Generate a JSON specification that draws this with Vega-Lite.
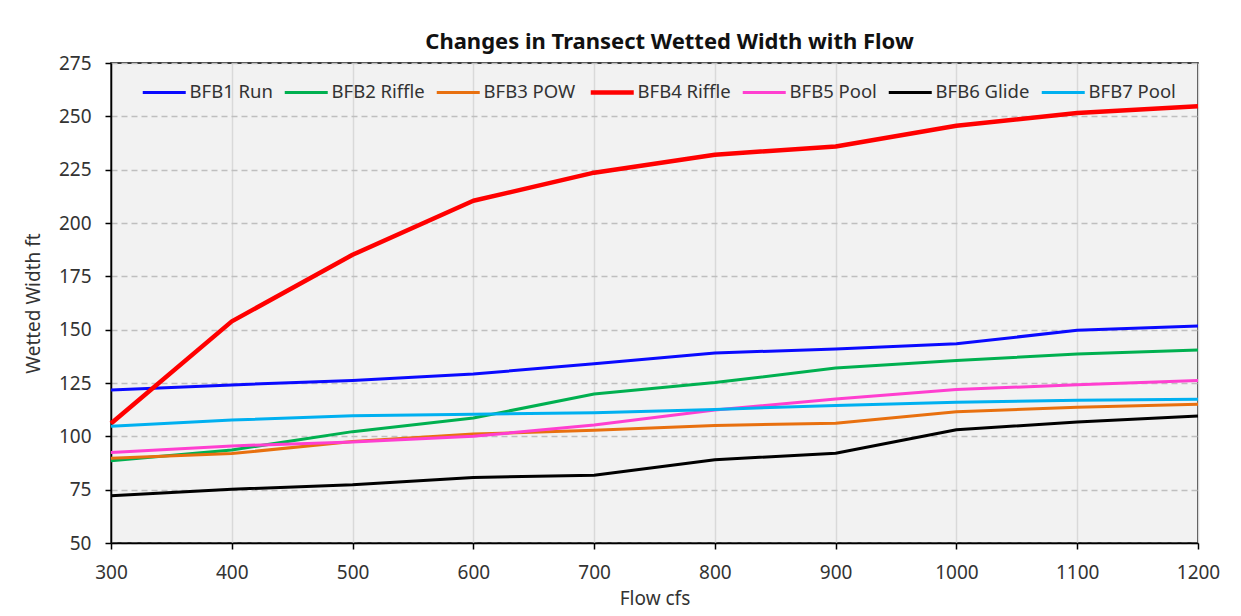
{
  "$schema": "https://vega.github.io/schema/vega-lite/v6.json",
  "width": 1087,
  "height": 480,
  "autosize": {"type": "none"},
  "padding": {"left": 111, "top": 63, "right": 43, "bottom": 73},
  "background": "white",
  "title": {
    "text": "Changes in Transect Wetted Width with Flow",
    "font": "Noto Sans",
    "fontSize": 22,
    "fontWeight": "bold",
    "color": "#111111",
    "anchor": "middle",
    "frame": "group",
    "dx": 15,
    "offset": 0
  },
  "data": {
    "values": [
      {"flow": 300, "series": "BFB1 Run", "width": 121.7},
      {"flow": 400, "series": "BFB1 Run", "width": 124.1},
      {"flow": 500, "series": "BFB1 Run", "width": 126.2},
      {"flow": 600, "series": "BFB1 Run", "width": 129.2},
      {"flow": 700, "series": "BFB1 Run", "width": 134.0},
      {"flow": 800, "series": "BFB1 Run", "width": 139.1},
      {"flow": 900, "series": "BFB1 Run", "width": 140.9},
      {"flow": 1000, "series": "BFB1 Run", "width": 143.4},
      {"flow": 1100, "series": "BFB1 Run", "width": 149.7},
      {"flow": 1200, "series": "BFB1 Run", "width": 151.7},
      {"flow": 300, "series": "BFB2 Riffle", "width": 88.6},
      {"flow": 400, "series": "BFB2 Riffle", "width": 93.6},
      {"flow": 500, "series": "BFB2 Riffle", "width": 102.2},
      {"flow": 600, "series": "BFB2 Riffle", "width": 108.6},
      {"flow": 700, "series": "BFB2 Riffle", "width": 119.8},
      {"flow": 800, "series": "BFB2 Riffle", "width": 125.2},
      {"flow": 900, "series": "BFB2 Riffle", "width": 132.0},
      {"flow": 1000, "series": "BFB2 Riffle", "width": 135.5},
      {"flow": 1100, "series": "BFB2 Riffle", "width": 138.6},
      {"flow": 1200, "series": "BFB2 Riffle", "width": 140.5},
      {"flow": 300, "series": "BFB3 POW", "width": 89.7},
      {"flow": 400, "series": "BFB3 POW", "width": 91.9},
      {"flow": 500, "series": "BFB3 POW", "width": 97.6},
      {"flow": 600, "series": "BFB3 POW", "width": 101.1},
      {"flow": 700, "series": "BFB3 POW", "width": 102.8},
      {"flow": 800, "series": "BFB3 POW", "width": 105.1},
      {"flow": 900, "series": "BFB3 POW", "width": 106.1},
      {"flow": 1000, "series": "BFB3 POW", "width": 111.5},
      {"flow": 1100, "series": "BFB3 POW", "width": 113.6},
      {"flow": 1200, "series": "BFB3 POW", "width": 115.0},
      {"flow": 300, "series": "BFB4 Riffle", "width": 106.0},
      {"flow": 400, "series": "BFB4 Riffle", "width": 153.9},
      {"flow": 500, "series": "BFB4 Riffle", "width": 185.1},
      {"flow": 600, "series": "BFB4 Riffle", "width": 210.4},
      {"flow": 700, "series": "BFB4 Riffle", "width": 223.6},
      {"flow": 800, "series": "BFB4 Riffle", "width": 232.0},
      {"flow": 900, "series": "BFB4 Riffle", "width": 235.9},
      {"flow": 1000, "series": "BFB4 Riffle", "width": 245.6},
      {"flow": 1100, "series": "BFB4 Riffle", "width": 251.6},
      {"flow": 1200, "series": "BFB4 Riffle", "width": 254.7},
      {"flow": 300, "series": "BFB5 Pool", "width": 92.4},
      {"flow": 400, "series": "BFB5 Pool", "width": 95.5},
      {"flow": 500, "series": "BFB5 Pool", "width": 97.4},
      {"flow": 600, "series": "BFB5 Pool", "width": 100.0},
      {"flow": 700, "series": "BFB5 Pool", "width": 105.3},
      {"flow": 800, "series": "BFB5 Pool", "width": 112.3},
      {"flow": 900, "series": "BFB5 Pool", "width": 117.5},
      {"flow": 1000, "series": "BFB5 Pool", "width": 121.9},
      {"flow": 1100, "series": "BFB5 Pool", "width": 124.2},
      {"flow": 1200, "series": "BFB5 Pool", "width": 126.2},
      {"flow": 300, "series": "BFB6 Glide", "width": 72.2},
      {"flow": 400, "series": "BFB6 Glide", "width": 75.2},
      {"flow": 500, "series": "BFB6 Glide", "width": 77.3},
      {"flow": 600, "series": "BFB6 Glide", "width": 80.7},
      {"flow": 700, "series": "BFB6 Glide", "width": 81.8},
      {"flow": 800, "series": "BFB6 Glide", "width": 89.0},
      {"flow": 900, "series": "BFB6 Glide", "width": 92.1},
      {"flow": 1000, "series": "BFB6 Glide", "width": 103.1},
      {"flow": 1100, "series": "BFB6 Glide", "width": 106.7},
      {"flow": 1200, "series": "BFB6 Glide", "width": 109.5},
      {"flow": 300, "series": "BFB7 Pool", "width": 104.7},
      {"flow": 400, "series": "BFB7 Pool", "width": 107.6},
      {"flow": 500, "series": "BFB7 Pool", "width": 109.7},
      {"flow": 600, "series": "BFB7 Pool", "width": 110.3},
      {"flow": 700, "series": "BFB7 Pool", "width": 111.1},
      {"flow": 800, "series": "BFB7 Pool", "width": 112.6},
      {"flow": 900, "series": "BFB7 Pool", "width": 114.5},
      {"flow": 1000, "series": "BFB7 Pool", "width": 116.0},
      {"flow": 1100, "series": "BFB7 Pool", "width": 116.9},
      {"flow": 1200, "series": "BFB7 Pool", "width": 117.4}
    ]
  },
  "mark": {"type": "line", "strokeJoin": "round", "strokeCap": "butt"},
  "encoding": {
    "x": {
      "field": "flow",
      "type": "quantitative",
      "scale": {"domain": [300, 1200], "nice": false, "zero": false},
      "axis": {
        "title": "Flow cfs",
        "format": "d",
        "values": [300, 400, 500, 600, 700, 800, 900, 1000, 1100, 1200],
        "grid": true,
        "gridColor": "#d9d9d9",
        "gridWidth": 1.5,
        "domainColor": "#000000",
        "domainWidth": 1.5,
        "tickColor": "#000000",
        "tickWidth": 1.5,
        "tickSize": 6,
        "labelFont": "Noto Sans",
        "labelFontSize": 19,
        "labelColor": "#333333",
        "labelPadding": 14,
        "labelFlush": false,
        "titleFont": "Noto Sans",
        "titleFontSize": 19,
        "titleFontWeight": "normal",
        "titleColor": "#333333",
        "titlePadding": 7
      }
    },
    "y": {
      "field": "width",
      "type": "quantitative",
      "scale": {"domain": [50, 275], "nice": false, "zero": false},
      "axis": {
        "title": "Wetted Width ft",
        "values": [50, 75, 100, 125, 150, 175, 200, 225, 250, 275],
        "grid": true,
        "gridColor": "#bfbfbf",
        "gridWidth": 1.5,
        "gridDash": [6, 4],
        "domainColor": "#000000",
        "domainWidth": 1.5,
        "tickColor": "#000000",
        "tickWidth": 1.5,
        "tickSize": 6,
        "labelFont": "Noto Sans",
        "labelFontSize": 19,
        "labelColor": "#333333",
        "labelPadding": 14,
        "labelFlush": false,
        "titleFont": "Noto Sans",
        "titleFontSize": 19,
        "titleFontWeight": "normal",
        "titleColor": "#333333",
        "titlePadding": 15
      }
    },
    "color": {
      "field": "series",
      "type": "nominal",
      "scale": {
        "domain": ["BFB1 Run", "BFB2 Riffle", "BFB3 POW", "BFB4 Riffle", "BFB5 Pool", "BFB6 Glide", "BFB7 Pool"],
        "range": ["#0a0aff", "#00b050", "#e8700f", "#ff0000", "#ff3fd0", "#000000", "#00b0f0"]
      },
      "legend": {
        "title": null,
        "orient": "none",
        "direction": "horizontal",
        "legendX": 44,
        "legendY": 20,
        "symbolType": "stroke",
        "symbolSize": 1849,
        "symbolStrokeWidth": 3,
        "labelFont": "Noto Sans",
        "labelFontSize": 18.5,
        "labelColor": "#333333",
        "labelOffset": 16,
        "columnPadding": 5,
        "padding": 0,
        "labelLimit": 300,
        "encode": {
          "symbols": {
            "update": {
              "strokeWidth": {"signal": "datum.value === 'BFB4 Riffle' ? 4.5 : 3"}
            }
          }
        }
      }
    },
    "strokeWidth": {
      "condition": {"test": "datum.series === 'BFB4 Riffle'", "value": 4.5},
      "value": 3
    }
  },
  "config": {
    "view": {"fill": "#f2f2f2", "stroke": "#000000", "strokeWidth": 1.5}
  }
}
